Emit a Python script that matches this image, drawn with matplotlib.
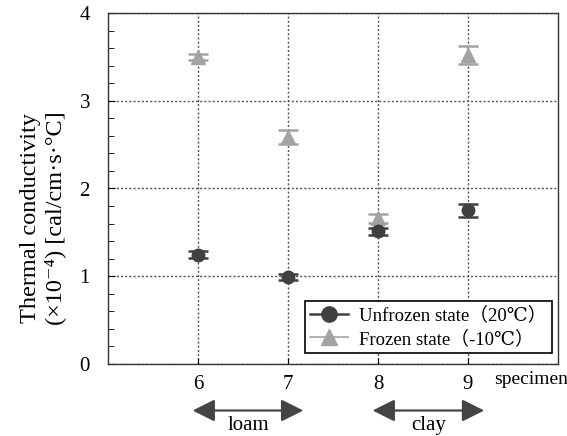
import numpy as np
import matplotlib
matplotlib.use("Agg")
import matplotlib.pyplot as plt
from matplotlib.lines import Line2D
from matplotlib.ticker import MultipleLocator

# data ---------------------------------------------------------------------
specimen = [6, 7, 8, 9]
unfrozen = [1.245, 0.99, 1.51, 1.75]
unfrozen_err = [0.04, 0.035, 0.04, 0.075]
frozen = [3.50, 2.59, 1.66, 3.52]
frozen_err = [0.03, 0.08, 0.05, 0.10]

groups = ["loam", "clay"]
group_span = [(5.94, 7.17), (7.94, 9.18)]

FONT = ["Liberation Serif", "DejaVu Serif", "Noto Sans CJK JP"]
plt.rcParams["font.family"] = FONT
plt.rcParams["font.size"] = 15

c_unf = "#404040"
c_fro = "#a3a3a3"

fig = plt.figure(figsize=(5.67, 4.36), dpi=100)
ax = fig.add_axes([108/567, 1-364/436, 450/567, 351/436])

ax.errorbar(specimen, frozen, yerr=frozen_err, fmt="^", ms=10, color=c_fro,
            ecolor=c_fro, elinewidth=1.5, capsize=7, capthick=1.8, zorder=3)
ax.errorbar(specimen, unfrozen, yerr=unfrozen_err, fmt="o", ms=9, color=c_unf,
            ecolor=c_unf, elinewidth=1.5, capsize=7, capthick=1.8, zorder=4)

ax.set_xlim(5, 10)
ax.set_ylim(0, 4)
ax.set_xticks(specimen)
ax.set_yticks(range(5))
ax.yaxis.set_minor_locator(MultipleLocator(0.2))
ax.tick_params(axis="y", which="both", direction="in", left=True, right=False, pad=13,
               labelsize=15)
ax.tick_params(axis="y", which="major", length=5)
ax.tick_params(axis="y", which="minor", length=4)
ax.tick_params(axis="x", direction="in", length=4, pad=8, labelsize=15)
ax.grid(True, which="major", ls=(0, (1.5, 1.5)), lw=1.0, color="#555555")
for s in ax.spines.values():
    s.set_linewidth(1.0)
    s.set_color("#333333")

ax.set_ylabel("Thermal conductivity\n(×10⁻⁴) [cal/cm·s·°C]", fontsize=17.5, linespacing=1.2)
ax.yaxis.set_label_coords(-0.093, 0.416)

fig.text(531/567, 1-379/436, "specimen", ha="center", va="center", fontsize=14)

# legend
handles = [Line2D([], [], color=c_unf, marker="o", ms=11, lw=1.8),
           Line2D([], [], color=c_fro, marker="^", ms=11, lw=1.2)]
labels = ["Unfrozen state（20℃）", "Frozen state（-10℃）"]
leg = ax.legend(handles, labels, loc="lower right", bbox_to_anchor=(0.987, 0.03),
                fancybox=False, framealpha=1, edgecolor="black", fontsize=13.5,
                handlelength=2.0, borderpad=0.3, labelspacing=0.3, handletextpad=0.6,
                borderaxespad=0)
leg.get_frame().set_linewidth(1.2)

# soil type arrows below the axis
for name, (x0, x1) in zip(groups, group_span):
    ax.annotate("", xy=(x0, -0.53), xytext=(x1, -0.53), annotation_clip=False,
                arrowprops=dict(arrowstyle="<|-|>,head_length=0.9,head_width=0.45",
                                color="#444444", lw=1.6, shrinkA=0, shrinkB=0))
    fig.text(ax.transData.transform(((x0 + x1) / 2, 0))[0] / fig.bbox.width, 0.002,
             name, ha="center", va="bottom", fontsize=15)

fig.savefig("out.png", dpi=100)
